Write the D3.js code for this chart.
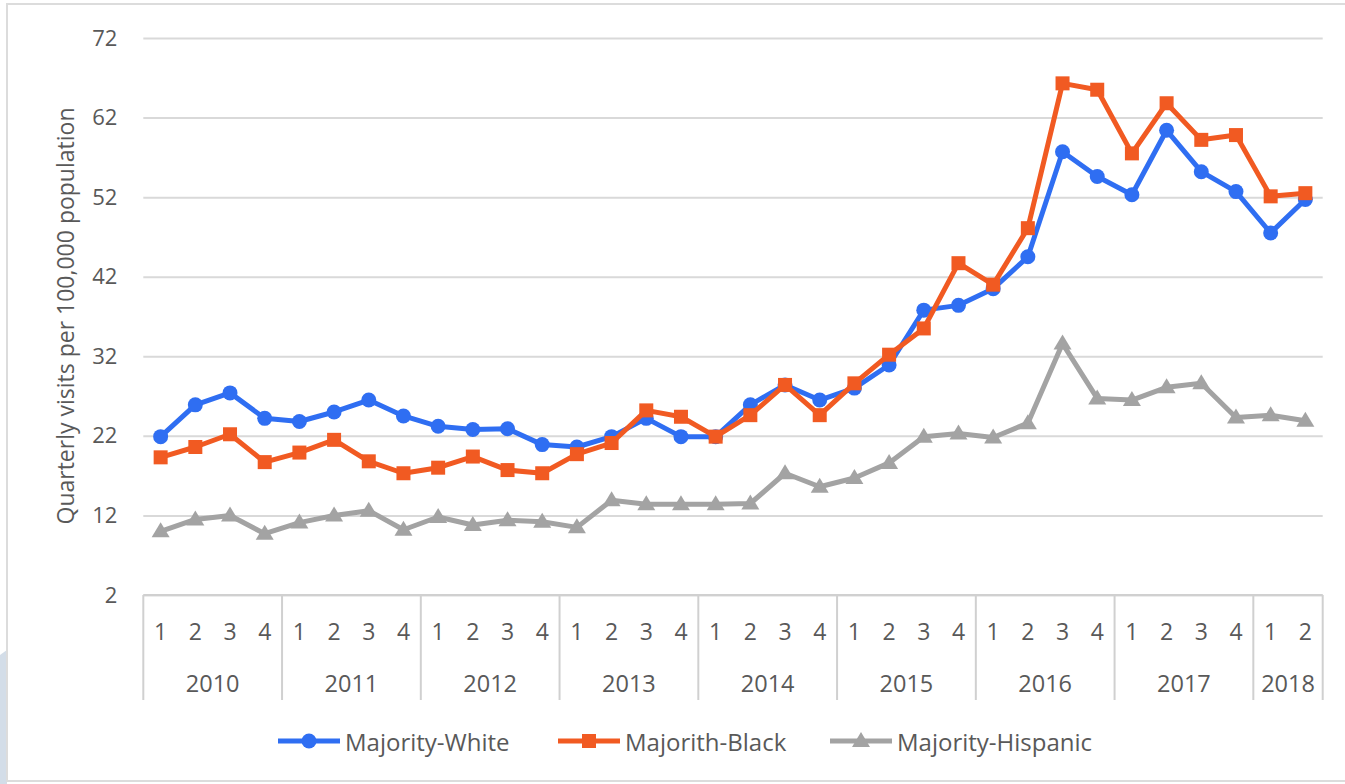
<!DOCTYPE html>
<html>
<head>
<meta charset="utf-8">
<script src="https://cdn.jsdelivr.net/npm/d3@7/dist/d3.min.js"></script>
<style>
  body { margin: 0; background: #fff; }
  svg { display: block; }
  text { font-family: "Open Sans", "Noto Sans", sans-serif; fill: #595959; }
</style>
</head>
<body>
<svg id="chart" width="1345" height="784"></svg>
<script>
// Quarterly visits per 100,000 population, 2010 Q1 – 2018 Q2
const years = ["2010", "2011", "2012", "2013", "2014", "2015", "2016", "2017", "2018"];
const quartersPerYear = [4, 4, 4, 4, 4, 4, 4, 4, 2];
const quarterLabels = [
  "1","2","3","4", "1","2","3","4", "1","2","3","4", "1","2","3","4",
  "1","2","3","4", "1","2","3","4", "1","2","3","4", "1","2","3","4",
  "1","2"
];
const yTicks = [2, 12, 22, 32, 42, 52, 62, 72];

const majorityWhite = [
  21.9, 25.9, 27.4, 24.2, 23.8, 25.0, 26.5, 24.5,
  23.2, 22.8, 22.9, 20.9, 20.6, 21.9, 24.2, 21.9,
  21.9, 25.9, 28.4, 26.5, 28.0, 30.9, 37.8, 38.4,
  40.5, 44.5, 57.7, 54.6, 52.3, 60.4, 55.2, 52.7,
  47.5, 51.7
];
const majorithBlack = [
  19.3, 20.6, 22.2, 18.7, 19.9, 21.5, 18.8, 17.3,
  18.0, 19.4, 17.7, 17.3, 19.7, 21.1, 25.2, 24.4,
  21.9, 24.6, 28.4, 24.6, 28.6, 32.2, 35.5, 43.7,
  41.0, 48.1, 66.3, 65.5, 57.5, 63.8, 59.2, 59.8,
  52.1, 52.5
];
const majorityHispanic = [
  10.0, 11.5, 12.0, 9.7, 11.1, 12.0, 12.6, 10.2,
  11.8, 10.8, 11.4, 11.2, 10.5, 13.9, 13.4, 13.4,
  13.4, 13.5, 17.3, 15.6, 16.7, 18.6, 21.9, 22.3,
  21.8, 23.6, 33.6, 26.7, 26.5, 28.1, 28.6, 24.3,
  24.6, 23.9
];

const series = [
  { name: "Majority-White",    values: majorityWhite,    color: "#2f6ef2", marker: "circle"   },
  { name: "Majorith-Black",    values: majorithBlack,    color: "#f15a22", marker: "square"   },
  { name: "Majority-Hispanic", values: majorityHispanic, color: "#a3a3a3", marker: "triangle" }
];

const svg = d3.select("#chart");

// slide backdrop and chart frame
svg.append("path")
  .attr("d", "M0,655 Q4,652 7,650 L7,784 L0,784 Z")
  .attr("fill", "#d3dde8");
svg.append("rect")
  .attr("x", 7).attr("y", 4).attr("width", 1345).attr("height", 777)
  .attr("fill", "#fff").attr("stroke", "#dcdcdc").attr("stroke-width", 2);

const plot = { left: 143.3, right: 1322.7, top: 38, bottom: 595 };

const x = d3.scaleBand()
  .domain(d3.range(quarterLabels.length))
  .range([plot.left, plot.right])
  .paddingInner(0).paddingOuter(0);
const cx = i => x(i) + x.bandwidth() / 2;

const y = d3.scaleLinear().domain([2, 72]).range([plot.bottom, plot.top]);

// horizontal gridlines + y tick labels
const yAxis = d3.axisLeft(y)
  .tickValues(yTicks)
  .tickSize(-(plot.right - plot.left))
  .tickPadding(26)
  .tickFormat(d3.format("d"));
const gy = svg.append("g")
  .attr("transform", `translate(${plot.left},0)`)
  .call(yAxis);
gy.select(".domain").remove();
gy.selectAll(".tick line").attr("stroke", "#d9d9d9").attr("stroke-width", 2);
gy.selectAll(".tick text")
  .style("font-size", "22px").attr("fill", "#595959");

// category axis: quarter labels, year labels, group separators
const axisG = svg.append("g");
axisG.append("line")
  .attr("x1", plot.left).attr("x2", plot.right)
  .attr("y1", plot.bottom).attr("y2", plot.bottom)
  .attr("stroke", "#d0d0d0").attr("stroke-width", 2);

axisG.selectAll("text.q")
  .data(quarterLabels)
  .join("text")
  .attr("class", "q")
  .attr("x", (d, i) => cx(i))
  .attr("y", 631)
  .attr("text-anchor", "middle")
  .attr("dominant-baseline", "central")
  .style("font-size", "23px")
  .text(d => d);

const starts = d3.cumsum([0, ...quartersPerYear]);
const boundaries = Array.from(starts, s => s < quarterLabels.length ? x(s) : plot.right);
axisG.selectAll("line.sep")
  .data(boundaries)
  .join("line")
  .attr("class", "sep")
  .attr("x1", d => d).attr("x2", d => d)
  .attr("y1", plot.bottom).attr("y2", 700)
  .attr("stroke", "#d0d0d0").attr("stroke-width", 2);

axisG.selectAll("text.yr")
  .data(years)
  .join("text")
  .attr("class", "yr")
  .attr("x", (d, i) => (boundaries[i] + boundaries[i + 1]) / 2)
  .attr("y", 683)
  .attr("text-anchor", "middle")
  .attr("dominant-baseline", "central")
  .style("font-size", "23.5px")
  .text(d => d);

// y axis title
svg.append("text")
  .attr("transform", `translate(65,316) rotate(-90)`)
  .attr("text-anchor", "middle")
  .attr("dominant-baseline", "central")
  .style("font-size", "23px")
  .text("Quarterly visits per 100,000 population");

// marker shapes
function drawMarker(g, kind, color, px, py) {
  if (kind === "circle") {
    g.append("circle").attr("cx", px).attr("cy", py).attr("r", 7.5).attr("fill", color);
  } else if (kind === "square") {
    g.append("rect").attr("x", px - 7).attr("y", py - 7).attr("width", 14).attr("height", 14).attr("fill", color);
  } else {
    g.append("path")
      .attr("d", `M${px},${py - 9} L${px + 9},${py + 6} L${px - 9},${py + 6} Z`)
      .attr("fill", color);
  }
}

const line = d3.line().x((d, i) => cx(i)).y(d => y(d));

// draw back-to-front: hispanic, white, black
[series[2], series[0], series[1]].forEach(s => {
  const g = svg.append("g");
  g.append("path")
    .attr("d", line(s.values))
    .attr("fill", "none")
    .attr("stroke", s.color)
    .attr("stroke-width", 5)
    .attr("stroke-linejoin", "round");
  s.values.forEach((v, i) => drawMarker(g, s.marker, s.color, cx(i), y(v)));
});

// legend
const legendPos = [278, 558, 830];
series.forEach((s, k) => {
  const g = svg.append("g");
  const lx = legendPos[k], ly = 741;
  g.append("line")
    .attr("x1", lx).attr("x2", lx + 62)
    .attr("y1", ly).attr("y2", ly)
    .attr("stroke", s.color).attr("stroke-width", 5);
  drawMarker(g, s.marker, s.color, lx + 31, ly);
  g.append("text")
    .attr("x", lx + 67).attr("y", ly)
    .attr("dominant-baseline", "central")
    .style("font-size", "24px")
    .text(s.name);
});
</script>
</body>
</html>
